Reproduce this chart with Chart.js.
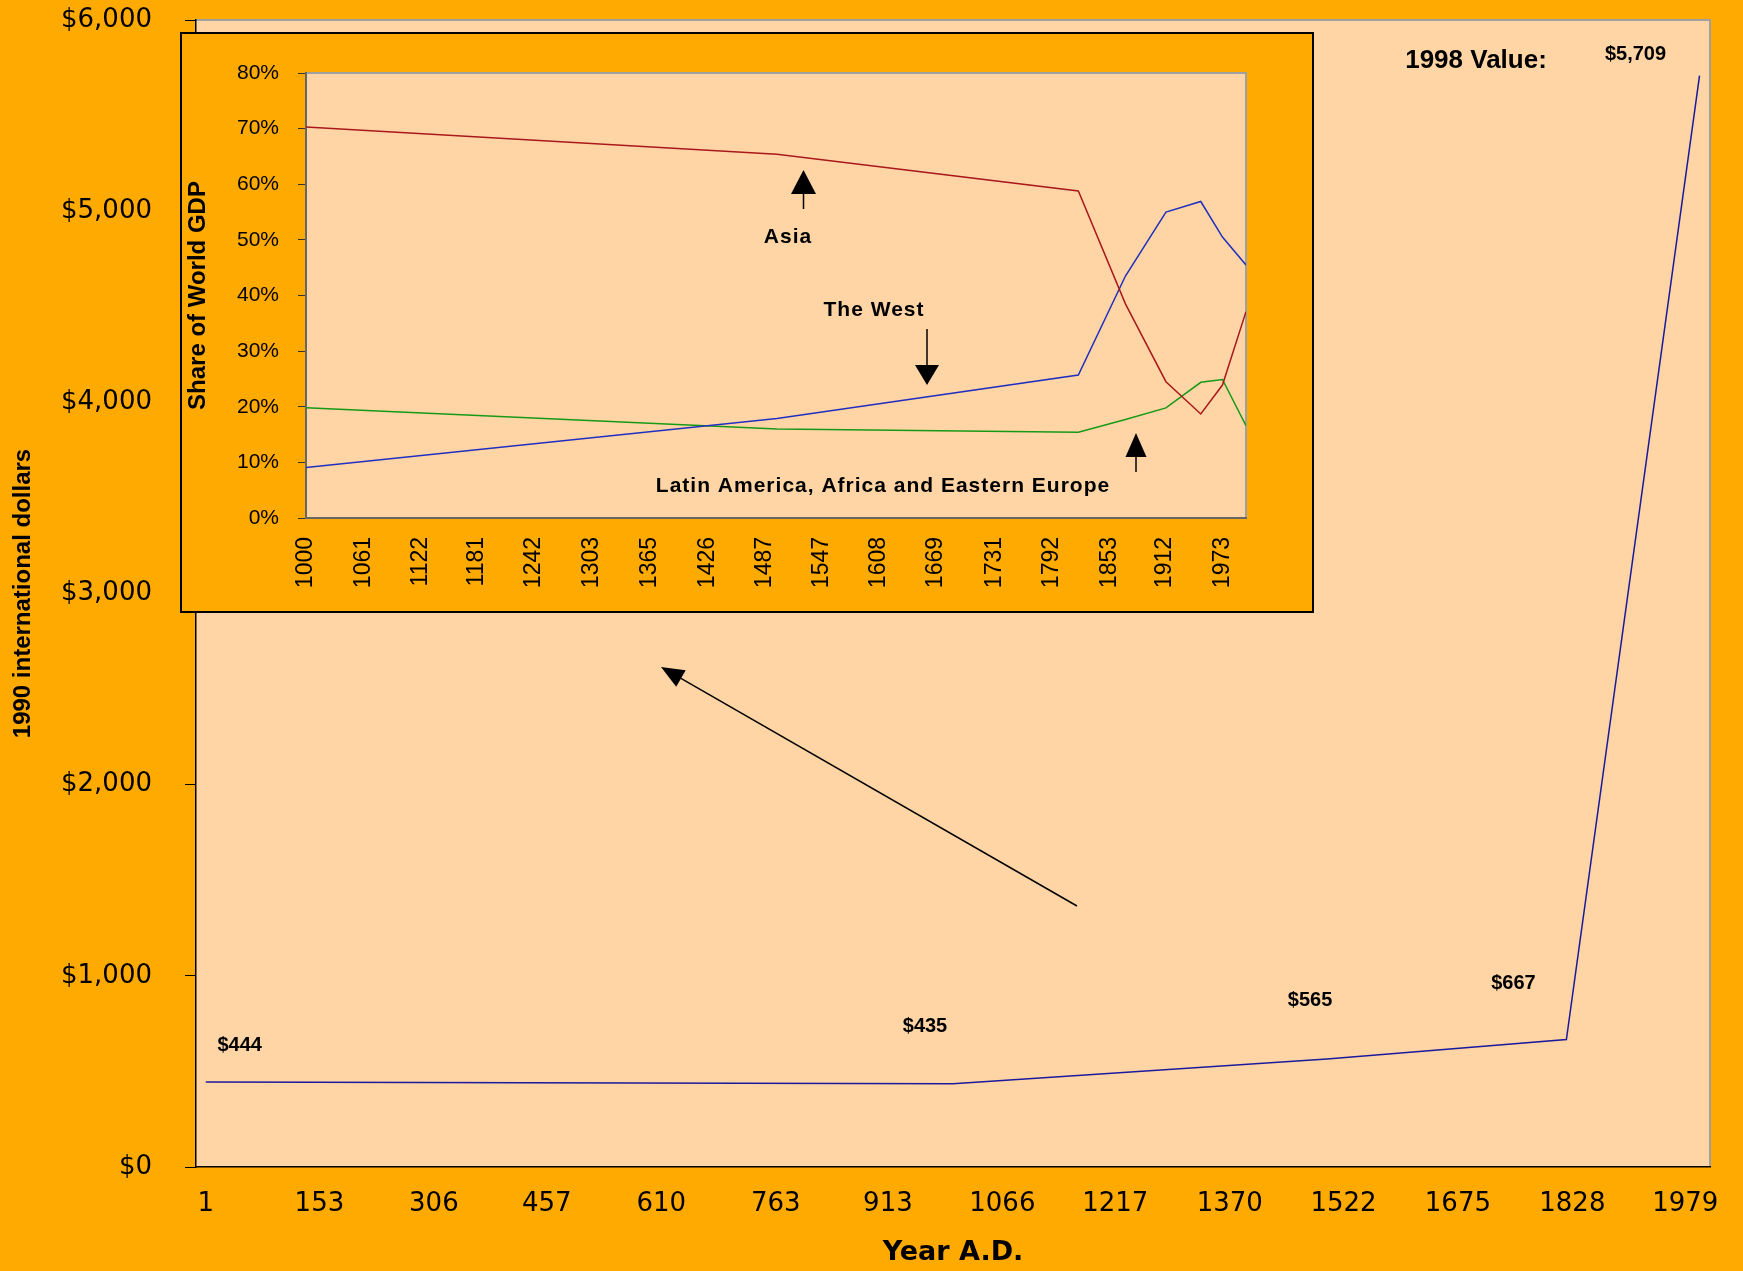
<!DOCTYPE html>
<html>
<head>
<meta charset="utf-8">
<title>World GDP per capita, year 1 to 1998</title>
<script src="https://cdn.jsdelivr.net/npm/chart.js@4.4.1/dist/chart.umd.min.js"></script>
<style>
  html, body { margin: 0; padding: 0; background: #FFAA00; }
  #wrap { position: relative; width: 1743px; height: 1271px; overflow: hidden; }
  #main { position: absolute; left: 0; top: 0; }
  #inset { position: absolute; left: 180px; top: 32px; }
</style>
</head>
<body>
<div id="wrap">
  <canvas id="main" width="1743" height="1271"></canvas>
  <canvas id="inset" width="1134" height="581"></canvas>
</div>
<script>
// World GDP per capita, 1990 international dollars
const gdpYears = [1, 1000, 1500, 1820, 1998];
const gdpPerCapita = [444, 435, 565, 667, 5709];
const gdpTickYears = [1, 153, 306, 457, 610, 763, 913, 1066, 1217, 1370, 1522, 1675, 1828, 1979];
const gdpTickValues = [0, 1000, 2000, 3000, 4000, 5000, 6000];

// Regional shares of world GDP, percent
const shareYears = [1000, 1500, 1820, 1870, 1913, 1950, 1973, 1998];
const asiaShare = [70.3, 65.4, 58.8, 38.5, 24.5, 18.7, 23.9, 37.1];
const westShare = [9.1, 17.9, 25.7, 43.5, 55.0, 56.9, 50.5, 45.5];
const restShare = [19.8, 16.0, 15.4, 17.7, 19.8, 24.4, 24.9, 16.6];
const shareTickYears = [1000, 1061, 1122, 1181, 1242, 1303, 1365, 1426, 1487, 1547, 1608, 1669, 1731, 1792, 1853, 1912, 1973];
const shareTickValues = [0, 10, 20, 30, 40, 50, 60, 70, 80];

// Look
const ORANGE = '#FFAA00';
const PEACH = '#FFD5A6';
const VERDANA = '"DejaVu Sans", Verdana, sans-serif';
const ARIAL = '"Liberation Sans", Arial, sans-serif';

// Where each value label sits relative to its point (px)
const valueLabelOffsets = [[34, -37], [-28, -57], [-17, -59], [-53, -56], [-64, -21]];

function drawArrow(ctx, x1, y1, x2, y2, headLen, headWidth, lineWidth) {
  const dx = x2 - x1, dy = y2 - y1;
  const len = Math.hypot(dx, dy);
  const ux = dx / len, uy = dy / len;
  const bx = x2 - ux * headLen, by = y2 - uy * headLen;
  ctx.save();
  ctx.strokeStyle = '#000';
  ctx.fillStyle = '#000';
  ctx.lineWidth = lineWidth;
  ctx.beginPath();
  ctx.moveTo(x1, y1);
  ctx.lineTo(bx, by);
  ctx.stroke();
  ctx.beginPath();
  ctx.moveTo(x2, y2);
  ctx.lineTo(bx - uy * headWidth / 2, by + ux * headWidth / 2);
  ctx.lineTo(bx + uy * headWidth / 2, by - ux * headWidth / 2);
  ctx.closePath();
  ctx.fill();
  ctx.restore();
}

function plotBackground(ctx, chart, frame) {
  const a = chart.chartArea;
  ctx.save();
  ctx.fillStyle = ORANGE;
  ctx.fillRect(0, 0, chart.width, chart.height);
  ctx.fillStyle = PEACH;
  ctx.fillRect(a.left, a.top, a.right - a.left, a.bottom - a.top);
  ctx.strokeStyle = '#A0A0A0';
  ctx.lineWidth = 2;
  ctx.beginPath();
  ctx.moveTo(a.left, a.top);
  ctx.lineTo(a.right, a.top);
  ctx.lineTo(a.right, a.bottom);
  ctx.stroke();
  if (frame) {
    ctx.strokeStyle = '#000';
    ctx.lineWidth = 2;
    ctx.strokeRect(1, 1, chart.width - 2, chart.height - 2);
  }
  ctx.restore();
}

const mainDecor = {
  id: 'mainDecor',
  beforeDraw(chart) { plotBackground(chart.ctx, chart, false); },
  afterDatasetsDraw(chart) {
    const ctx = chart.ctx;
    const meta = chart.getDatasetMeta(0);
    ctx.save();
    ctx.fillStyle = '#000';
    ctx.textAlign = 'center';
    ctx.textBaseline = 'middle';
    ctx.font = 'bold 20px ' + ARIAL;
    gdpPerCapita.forEach((v, i) => {
      const p = meta.data[i];
      const [ox, oy] = valueLabelOffsets[i];
      ctx.fillText('$' + v.toLocaleString('en-US'), p.x + ox, p.y + oy);
    });
    ctx.font = 'bold 26px ' + ARIAL;
    ctx.fillText('1998 Value:', 1476, 61);
    ctx.restore();
    drawArrow(ctx, 1077, 906, 661, 667, 23, 19, 1.5);
  }
};

const insetDecor = {
  id: 'insetDecor',
  beforeDraw(chart) { plotBackground(chart.ctx, chart, true); },
  afterDatasetsDraw(chart) {
    const ctx = chart.ctx;
    ctx.save();
    ctx.fillStyle = '#000';
    ctx.textAlign = 'center';
    ctx.textBaseline = 'middle';
    ctx.font = 'bold 21px ' + ARIAL;
    if ('letterSpacing' in ctx) ctx.letterSpacing = '1px';
    ctx.fillText('Asia', 608, 205);
    ctx.fillText('The West', 694, 278);
    ctx.fillText('Latin America, Africa and Eastern Europe', 703, 454);
    ctx.restore();
    drawArrow(ctx, 623.5, 177, 623.5, 138, 24, 25, 1.5);
    drawArrow(ctx, 747, 297, 747, 353, 20, 24, 1.5);
    drawArrow(ctx, 956, 440, 956, 401, 24, 21, 1.5);
  }
};

const points = (xs, ys) => xs.map((x, i) => ({ x: x, y: ys[i] }));
const setTicks = (vals) => (scale) => { scale.ticks = vals.map(v => ({ value: v })); };
// Fixed axis band sizes; label overhang is kept inside the layout padding
const fixWidth = (w) => (s) => { s.width = w; s.paddingTop = 0; s.paddingBottom = 0; };
const fixHeight = (h) => (s) => { s.height = h; s.paddingLeft = 0; s.paddingRight = 0; };

// Main chart: GDP per capita
new Chart(document.getElementById('main'), {
  type: 'line',
  data: {
    datasets: [{
      data: points(gdpYears, gdpPerCapita),
      borderColor: '#1A1A9C',
      borderWidth: 1.5,
      pointRadius: 0,
      tension: 0,
      fill: false
    }]
  },
  options: {
    responsive: false,
    devicePixelRatio: 1,
    animation: false,
    layout: { padding: { top: 20, right: 33, left: 0, bottom: 0 } },
    plugins: { legend: { display: false }, tooltip: { enabled: false }, title: { display: false } },
    scales: {
      x: {
        type: 'linear',
        min: -12,
        max: 2012,
        afterBuildTicks: setTicks(gdpTickYears),
        afterFit: fixHeight(104),
        grid: { display: false, drawTicks: false },
        border: { display: true, color: '#000', width: 1.5 },
        ticks: {
          autoSkip: false, maxRotation: 0, minRotation: 0, padding: 22,
          color: '#000', font: { family: VERDANA, size: 26 },
          callback: (v) => String(v)
        },
        title: {
          display: true, text: 'Year A.D.', color: '#000',
          font: { family: VERDANA, size: 27, weight: 'bold' },
          padding: { top: 0, bottom: 2 }
        }
      },
      y: {
        type: 'linear',
        min: 0,
        max: 6000,
        afterBuildTicks: setTicks(gdpTickValues),
        afterFit: fixWidth(196),
        grid: { drawOnChartArea: false, drawTicks: true, tickLength: 11, color: '#000' },
        border: { display: true, color: '#000', width: 1.5 },
        ticks: {
          padding: 33, color: '#000', font: { family: VERDANA, size: 26 },
          callback: (v) => '$' + Number(v).toLocaleString('en-US')
        },
        title: {
          display: true, text: '1990 international dollars', color: '#000',
          font: { family: ARIAL, size: 24, weight: 'bold' },
          padding: { top: 9, bottom: 0 }
        }
      }
    }
  },
  plugins: [mainDecor]
});

// Inset chart: shares of world GDP
new Chart(document.getElementById('inset'), {
  type: 'line',
  data: {
    datasets: [
      { label: 'Asia', data: points(shareYears, asiaShare), borderColor: '#A8181C' },
      { label: 'The West', data: points(shareYears, westShare), borderColor: '#1F2FC0' },
      { label: 'Latin America, Africa and Eastern Europe', data: points(shareYears, restShare), borderColor: '#169A16' }
    ].map(d => Object.assign(d, { borderWidth: 1.5, pointRadius: 0, tension: 0, fill: false }))
  },
  options: {
    responsive: false,
    devicePixelRatio: 1,
    animation: false,
    layout: { padding: { top: 41, right: 68, left: 0, bottom: 0 } },
    plugins: { legend: { display: false }, tooltip: { enabled: false }, title: { display: false } },
    scales: {
      x: {
        type: 'linear',
        min: 1000,
        max: 1998,
        afterBuildTicks: setTicks(shareTickYears),
        afterFit: fixHeight(95),
        grid: { display: false, drawTicks: false },
        border: { display: true, color: '#666', width: 2 },
        ticks: {
          autoSkip: false, maxRotation: 90, minRotation: 90, padding: 19,
          color: '#000', font: { family: ARIAL, size: 23 },
          callback: (v) => String(v)
        }
      },
      y: {
        type: 'linear',
        min: 0,
        max: 80,
        afterBuildTicks: setTicks(shareTickValues),
        afterFit: fixWidth(126),
        grid: { drawOnChartArea: false, drawTicks: true, tickLength: 8, color: '#333' },
        border: { display: true, color: '#666', width: 2 },
        ticks: {
          padding: 19, color: '#000', font: { family: ARIAL, size: 21 },
          callback: (v) => v + '%'
        },
        title: {
          display: true, text: 'Share of World GDP', color: '#000',
          font: { family: ARIAL, size: 24, weight: 'bold' },
          padding: { top: 4, bottom: 0 }
        }
      }
    }
  },
  plugins: [insetDecor]
});
</script>
</body>
</html>
